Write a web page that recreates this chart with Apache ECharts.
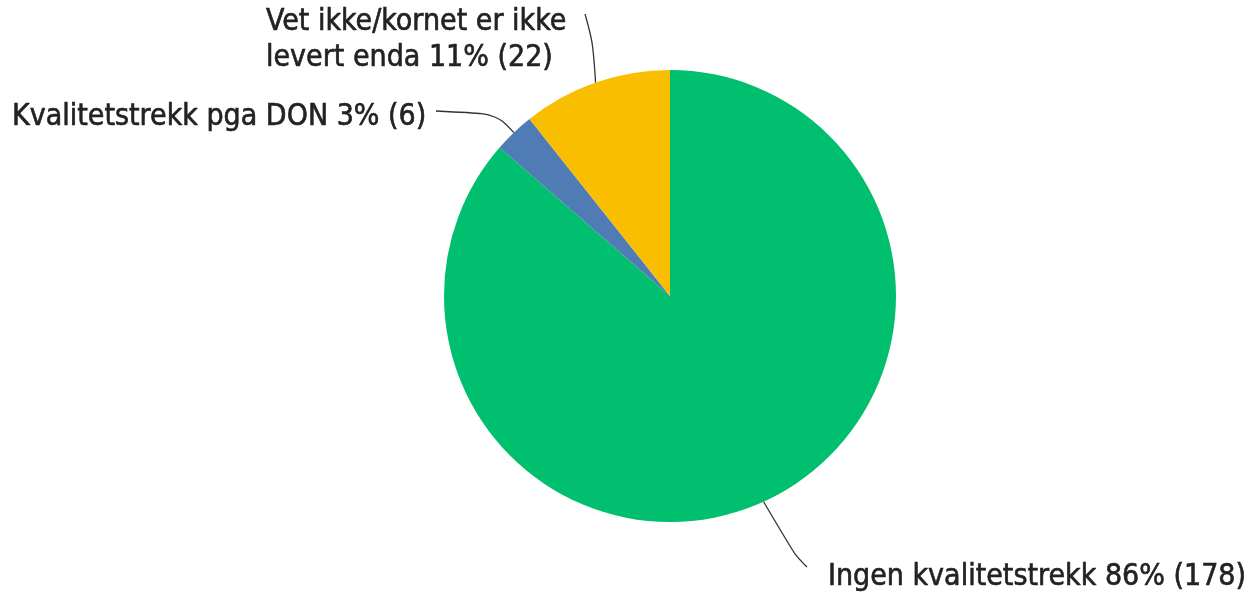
<!DOCTYPE html>
<html><head><meta charset="utf-8">
<script src="https://cdn.jsdelivr.net/npm/echarts@6/dist/echarts.min.js"></script>
<style>html,body{margin:0;padding:0;background:#fff}#c{width:1258px;height:594px}</style>
</head><body><div id="c"></div>
<script>
const categories = ['Ingen kvalitetstrekk', 'Kvalitetstrekk pga DON', 'Vet ikke/kornet er ikke\nlevert enda'];
const values = [178, 6, 22];
const colors = ['#00BF6F', '#507CB6', '#F9BE00'];
// label anchor positions and leader-line bend/end points
const labelPos = [
  {x: 828, y: 577, mid: [795, 555], end: [807, 567]},
  {x: 12, y: 117, mid: [496, 114], end: [436, 111]},
  {x: 266, y: 40, mid: [593, 42], end: [585, 14]}
];
const total = values.reduce((a, b) => a + b, 0);
const chart = echarts.init(document.getElementById('c'));
chart.setOption({
  animation: false,
  series: [{
    type: 'pie',
    center: [670, 296],
    radius: 226,
    startAngle: 90,
    clockwise: true,
    data: categories.map((c, i) => ({name: c, value: values[i], itemStyle: {color: colors[i]}})),
    label: {
      show: true,
      position: 'outside',
      color: '#222',
      fontFamily: 'DejaVu Sans Condensed, sans-serif',
      fontSize: 30,
      lineHeight: 36,
      textBorderColor: '#222',
      textBorderWidth: 0.6,
      formatter: p => p.name + ' ' + Math.round(p.value / total * 100) + '% (' + p.value + ')'
    },
    labelLine: {show: true, smooth: 0.35, length: 20, length2: 30, lineStyle: {color: '#333', width: 1.3}},
    labelLayout: function (params) {
      const lp = labelPos[params.dataIndex];
      const p0 = params.labelLinePoints ? params.labelLinePoints[0] : null;
      const out = {x: lp.x, y: lp.y, align: 'left', verticalAlign: 'middle'};
      if (p0) out.labelLinePoints = [[p0[0], p0[1]], lp.mid, lp.end];
      return out;
    }
  }]
});
</script></body></html>
